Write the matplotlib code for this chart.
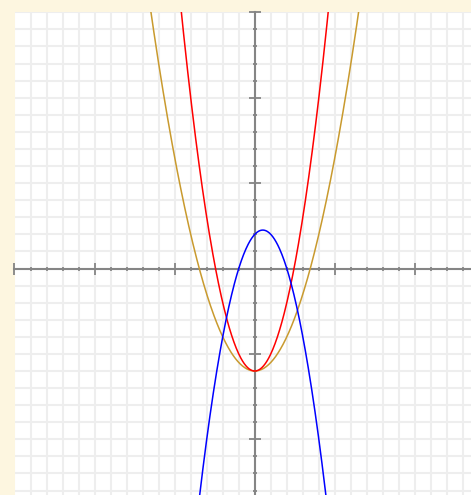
import matplotlib.pyplot as plt
import numpy as np

# parabola coefficients (a, b, c) for y = a*x^2 + b*x + c
red_coef = [1.0, 0.0, -6.0]
gold_coef = [0.5, 0.0, -6.0]
blue_coef = [-1.0, 1.0, 2.0]
colors = ["#ff0000", "#c99a2e", "#0000ff"]

x_range = [-15, 13.5]
y_range = [-13.26, 15]


def main():
    fig = plt.figure(figsize=(4.71, 4.95), dpi=100)
    fig.patch.set_facecolor("#fdf6e0")
    ax = fig.add_axes([14.5 / 471, 0, 1 - 14.5 / 471, 1 - 12.3 / 495])
    ax.set_facecolor("white")

    ax.set_xlim(x_range)
    ax.set_ylim(y_range)

    # grid every unit
    ax.set_xticks(np.arange(-15, 14, 5))
    ax.set_yticks(np.arange(-10, 16, 5))
    ax.set_xticks(np.arange(-15, 14, 1), minor=True)
    ax.set_yticks(np.arange(-13, 16, 1), minor=True)
    ax.grid(True, which="both", color="#eeeeee", linewidth=1.5, zorder=0)
    ax.set_axisbelow(True)

    # axes through origin
    for side in ["top", "right"]:
        ax.spines[side].set_visible(False)
    ax.spines["left"].set_position(("data", 0))
    ax.spines["bottom"].set_position(("data", 0))
    for side in ["left", "bottom"]:
        ax.spines[side].set_color("#858585")
        ax.spines[side].set_linewidth(1.5)
    ax.tick_params(which="major", direction="inout", length=8, width=1.3,
                   color="#858585", labelleft=False, labelbottom=False)
    ax.tick_params(which="minor", direction="inout", length=3, width=1.3,
                   color="#858585")

    xs = np.linspace(x_range[0], x_range[1], 800)
    for coef, c in zip([gold_coef, red_coef, blue_coef], [colors[1], colors[0], colors[2]]):
        ax.plot(xs, np.polyval(coef, xs), color=c, linewidth=1.1, zorder=3)

    fig.savefig("out.png", dpi=100, facecolor=fig.get_facecolor())


if __name__ == "__main__":
    main()
